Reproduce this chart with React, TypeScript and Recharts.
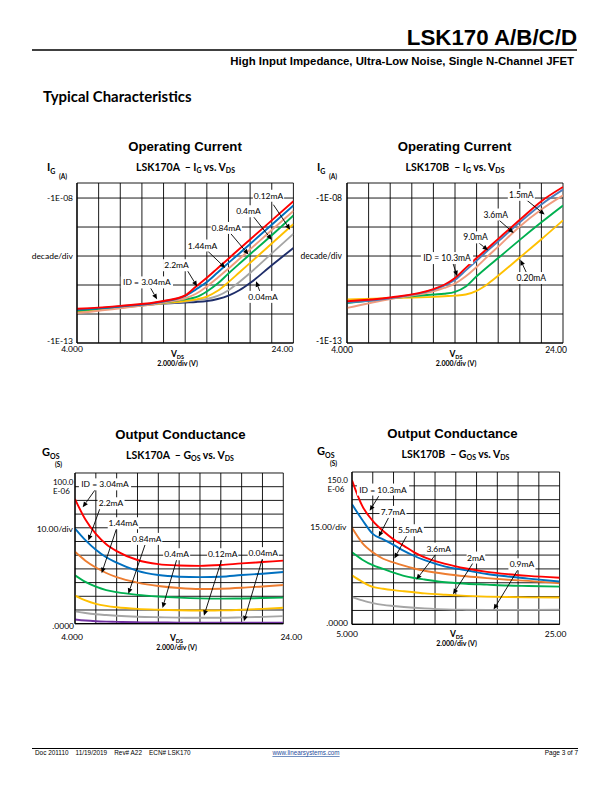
import React from "react";
import { LineChart, Line, XAxis, YAxis, CartesianGrid, ReferenceLine, ReferenceDot } from "recharts";

const ARIAL = "'Liberation Sans', Arial, sans-serif";
const CAL = "Lato, 'Open Sans', sans-serif";

// LSK170A  |IG| (A) vs VDS (V)
const vdsIgA = [4, 8, 12, 14, 15, 16, 17, 18, 19, 20, 22, 24];
const igA_3_04 = [1.51e-12, 1.91e-12, 2.8e-12, 4.4e-12, 8.9e-12, 1.78e-11, 3.8e-11, 8.1e-11, 1.74e-10, 3.7e-10, 1.7e-9, 7.8e-9];
const igA_2_2 = [1.41e-12, 1.82e-12, 2.7e-12, 4.2e-12, 7.1e-12, 1.26e-11, 2.7e-11, 5.8e-11, 1.23e-10, 2.6e-10, 1.2e-9, 5.5e-9];
const igA_1_44 = [1.07e-12, 1.58e-12, 2.5e-12, 3.5e-12, 5.0e-12, 8.9e-12, 1.78e-11, 3.7e-11, 7.9e-11, 1.7e-10, 7.9e-10, 3.6e-9];
const igA_0_84 = [1.32e-12, 1.74e-12, 2.5e-12, 3.2e-12, 3.8e-12, 6.0e-12, 1.12e-11, 2.5e-11, 5.4e-11, 1.15e-10, 5.2e-10, 2.5e-9];
const igA_0_4 = [1.26e-12, 1.66e-12, 2.4e-12, 2.8e-12, 3.2e-12, 4.0e-12, 6.3e-12, 1.26e-11, 2.7e-11, 5.8e-11, 2.7e-10, 1.26e-9];
const igA_0_12 = [1.2e-12, 1.66e-12, 2.3e-12, 2.7e-12, 3.0e-12, 3.3e-12, 4.2e-12, 6.6e-12, 1.26e-11, 2.6e-11, 1.23e-10, 5.8e-10];
const igA_0_04 = [1.38e-12, 1.74e-12, 2.3e-12, 2.5e-12, 2.6e-12, 2.8e-12, 3.3e-12, 4.3e-12, 6.6e-12, 1.17e-11, 4.8e-11, 1.9e-10];

// LSK170B  |IG| (A) vs VDS (V)
const vdsIgB = [4, 8, 12, 13, 14, 15, 16, 17, 18, 20, 22, 24];
const igB_10_3 = [2.75e-12, 3.7e-12, 7.2e-12, 1.02e-11, 1.74e-11, 3.9e-11, 8.5e-11, 1.82e-10, 3.9e-10, 1.78e-9, 7.8e-9, 2.4e-8];
const igB_9_0 = [2.5e-12, 3.5e-12, 6.9e-12, 9.5e-12, 1.51e-11, 3.2e-11, 6.9e-11, 1.51e-10, 3.2e-10, 1.45e-9, 6.0e-9, 1.95e-8];
const igB_3_6 = [1.62e-12, 3.3e-12, 6.0e-12, 7.9e-12, 1.12e-11, 2.0e-11, 4.2e-11, 9.5e-11, 2.1e-10, 1.05e-9, 4.0e-9, 1.23e-8];
const igB_1_5 = [2.4e-12, 3.5e-12, 4.7e-12, 5.0e-12, 5.8e-12, 8.9e-12, 2.0e-11, 4.2e-11, 8.5e-11, 3.6e-10, 1.45e-9, 5.5e-9];
const igB_0_20 = [3.2e-12, 3.5e-12, 3.9e-12, 4.1e-12, 4.3e-12, 4.7e-12, 6.3e-12, 1.07e-11, 2.1e-11, 8.9e-11, 3.8e-10, 1.7e-9];

// LSK170A  GOS (uS) vs VDS (V)
const vdsGosA = [4, 5, 6, 7, 8, 10, 12, 14, 16, 18, 20, 22, 24];
const gosA_3_04 = [91, 76, 65.5, 58, 53, 46.5, 43.5, 42.5, 42.2, 42.8, 44, 45, 46];
const gosA_2_2 = [69.5, 61, 54, 48.5, 44.5, 38.5, 35.5, 34.3, 34, 34.3, 35.5, 36.5, 37.7];
const gosA_1_44 = [52.5, 46, 41, 37, 34, 30, 27.5, 26, 25.3, 25.5, 26.2, 27.2, 28.2];
const gosA_0_84 = [35.3, 30.5, 27, 24.5, 23, 21, 19.8, 19, 18.5, 18.3, 18.4, 18.7, 19];
const gosA_0_4 = [20.5, 17, 14.5, 13, 12, 10.8, 10.2, 9.8, 9.6, 9.7, 10.2, 10.8, 11.6];
const gosA_0_12 = [9, 7.8, 6.9, 6.3, 5.8, 5.1, 4.7, 4.4, 4.3, 4.3, 4.6, 5, 5.5];
const gosA_0_04 = [3.1, 2.3, 1.8, 1.5, 1.3, 1.0, 0.9, 0.8, 0.8, 0.8, 0.8, 0.8, 0.8];

// LSK170B  GOS (uS) vs VDS (V)
const vdsGosB = [5, 6, 7, 8, 9, 10, 11, 12, 14, 16, 18, 20, 22, 25];
const gosB_10_3 = [156, 128, 112, 101, 92, 85, 78, 72.5, 65.5, 60.5, 56.8, 54.3, 52.5, 50.5];
const gosB_7_7 = [130, 113, 98, 92, 86, 79.5, 74, 69.5, 62.5, 58.5, 54.5, 51.8, 49.5, 46.3];
const gosB_5_5 = [104.5, 88, 78, 71, 67, 63.5, 60.5, 58, 54.5, 52, 50, 48.3, 47, 44.5];
const gosB_3_6 = [78, 70, 64, 60, 56, 52.5, 50.2, 48.5, 45.5, 44, 43, 42, 41.5, 40.8];
const gosB_2 = [53, 46, 40.5, 38.5, 37, 35.8, 34.7, 33.5, 32, 30.8, 30, 29.5, 29.2, 29];
const gosB_0_9 = [29.5, 26, 23, 21, 19.8, 18.8, 18, 17.3, 16.2, 15.8, 15.6, 15.6, 15.6, 15.7];

// axis ticks
const vTicksA = [4, 6, 8, 10, 12, 14, 16, 18, 20, 22, 24];
const vTicksB = [5, 7, 9, 11, 13, 15, 17, 19, 21, 23, 25];
const igTicks = [1e-13, 1e-12, 1e-11, 1e-10, 1e-9, 1e-8, 3.3e-8];
const gosTicksA = [0, 10, 20, 30, 40, 50, 60, 70, 80, 90, 100, 110];
const gosTicksB = [0, 15, 30, 45, 60, 75, 90, 105, 120, 135, 150, 165];

// callouts: label at (lx, ly), arrow from (sx, sy) to (tx, ty), data units
const notesIgA = [
  { text: "0.12mA", lx: 21.7, ly: 1.2e-8, sx: 22.15, sy: 5.9e-9, tx: 23.7, ty: 8.1e-10 },
  { text: "0.4mA", lx: 19.85, ly: 3.5e-9, sx: 20.3, sy: 2.3e-9, tx: 22, ty: 3.6e-10 },
  { text: "0.84mA", lx: 17.8, ly: 9.3e-10, sx: 18.15, sy: 6.3e-10, tx: 19.85, ty: 1.12e-10 },
  { text: "1.44mA", lx: 15.6, ly: 2.3e-10, sx: 16, sy: 1.58e-10, tx: 17.7, ty: 3.9e-11 },
  { text: "2.2mA", lx: 13.2, ly: 4.8e-11, sx: 14.15, sy: 3.4e-11, tx: 15.1, ty: 8.9e-12 },
  { text: "ID = 3.04mA", lx: 10.46, ly: 1.23e-11, sx: 10.8, sy: 7.9e-12, tx: 11.4, ty: 3.2e-12 },
  { text: "0.04mA", lx: 21.2, ly: 3.9e-12, sx: 20.9, sy: 6.0e-12, tx: 20.55, ty: 1.35e-11 },
];
const notesIgB = [
  { text: "1.5mA", lx: 20.14, ly: 1.29e-8, sx: 20.6, sy: 8.7e-9, tx: 22.3, ty: 2.7e-9 },
  { text: "3.6mA", lx: 17.77, ly: 2.7e-9, sx: 18.1, sy: 1.7e-9, tx: 19.43, ty: 6.2e-10 },
  { text: "9.0mA", lx: 15.9, ly: 4.4e-10, sx: 16.13, sy: 3.0e-10, tx: 17.06, ty: 1.58e-10 },
  { text: "ID = 10.3mA", lx: 13.26, ly: 8.5e-11, sx: 13.8, sy: 5.8e-11, tx: 14.2, ty: 2.0e-11 },
  { text: "0.20mA", lx: 21.07, ly: 1.74e-11, sx: 20.6, sy: 2.75e-11, tx: 20.05, ty: 7.4e-11 },
];
const notesGosA = [
  { text: "ID = 3.04mA", lx: 6.88, ly: 101.7, sx: 5.92, sy: 97.6, tx: 4.74, ty: 85 },
  { text: "2.2mA", lx: 7.46, ly: 87.9, sx: 6.4, sy: 84.2, tx: 5.28, ty: 60.7 },
  { text: "1.44mA", lx: 8.64, ly: 73.3, sx: 8, sy: 69.7, tx: 6.56, ty: 36.9 },
  { text: "0.84mA", lx: 10.88, ly: 61.9, sx: 10.72, sy: 57.5, tx: 9.12, ty: 21.8 },
  { text: "0.4mA", lx: 13.76, ly: 50.7, sx: 13.76, sy: 46.6, tx: 12.4, ty: 11.4 },
  { text: "0.12mA", lx: 18.18, ly: 50.7, sx: 18.08, sy: 46.6, tx: 16.38, ty: 5.8 },
  { text: "0.04mA", lx: 22.08, ly: 51.5, sx: 21.98, sy: 47.1, tx: 20.22, ty: 1.7 },
];
const notesGosB = [
  { text: "ID = 10.3mA", lx: 7.99, ly: 146, sx: 7.57, sy: 138.8, tx: 6.7, ty: 122.9 },
  { text: "7.7mA", lx: 8.95, ly: 121.8, sx: 8.53, sy: 115.6, tx: 7.57, ty: 94.7 },
  { text: "5.5mA", lx: 10.62, ly: 101.9, sx: 10.3, sy: 96.5, tx: 9.08, ty: 71.2 },
  { text: "3.6mA", lx: 13.35, ly: 82, sx: 13.12, sy: 76.6, tx: 11.2, ty: 48.4 },
  { text: "2mA", lx: 16.94, ly: 72.3, sx: 16.72, sy: 67.6, tx: 14.73, ty: 32.5 },
  { text: "0.9mA", lx: 21.37, ly: 65, sx: 21.05, sy: 60.4, tx: 18.64, ty: 15.9 },
];

type Series = { key: string; color: string; values: number[] };
type Note = { text: string; lx: number; ly: number; sx: number; sy: number; tx: number; ty: number };
type YLab = { v: number; lines: string[]; anchor: "start" | "end"; dx: number; dy: number; size?: number };
type Cfg = {
  left: number; top: number; width: number; height: number;
  x: number[]; series: Series[]; notes: Note[];
  xDomain: [number, number]; xTicks: number[];
  xFirst: string; xLast: string; firstDx: number; lastDx: number; xDy: number;
  log: boolean; yDomain: [number, number]; yTicks: number[]; yLabels: YLab[];
};

function rows(x: number[], series: Series[]) {
  return x.map((v, i) => {
    const r: Record<string, number> = { v };
    series.forEach((s) => (r[s.key] = s.values[i]));
    return r;
  });
}

const Arrow = (p: any) => {
  const { x1, y1, x2, y2 } = p;
  const a = Math.atan2(y2 - y1, x2 - x1);
  const bx = x2 - 5.5 * Math.cos(a);
  const by = y2 - 5.5 * Math.sin(a);
  const px = -Math.sin(a) * 2.4;
  const py = Math.cos(a) * 2.4;
  return (
    <g>
      <line x1={x1} y1={y1} x2={bx} y2={by} stroke="#000" strokeWidth={0.9} />
      <polygon points={`${x2},${y2} ${bx + px},${by + py} ${bx - px},${by - py}`} fill="#000" />
    </g>
  );
};

const NoteBox = ({ cx, cy, text }: { cx: number; cy: number; text: string }) => {
  const w = text.length * 4.2 + 6;
  return (
    <g>
      <rect x={cx - w / 2} y={cy - 6} width={w} height={12} fill="#fff" />
      <text x={cx} y={cy + 3} textAnchor="middle" fontSize={8.5} fontFamily={CAL} fill="#000">{text}</text>
    </g>
  );
};

function Panel({ c }: { c: Cfg }) {
  const padL = 60, padT = 10, padR = 24, padB = 30;
  const xTick = (p: any) => {
    const v = p.payload.value;
    let t = "", dx = 0;
    if (v === c.xTicks[0]) { t = c.xFirst; dx = c.firstDx; }
    else if (v === c.xTicks[c.xTicks.length - 1]) { t = c.xLast; dx = c.lastDx; }
    if (!t) return <g />;
    return (
      <text x={p.x + dx} y={c.height + padT + c.xDy} textAnchor="middle" fontSize={8.5} fontFamily={CAL} fill="#000">{t}</text>
    );
  };
  const yTick = (p: any) => {
    const val = p.payload.value;
    const lab = c.yLabels.find((l) => (l.v === 0 ? val === 0 : Math.abs(val - l.v) / l.v < 1e-6));
    if (!lab) return <g />;
    return (
      <text x={padL + lab.dx} y={p.y + lab.dy} textAnchor={lab.anchor} fontSize={lab.size ?? 8.5} fontFamily={CAL} fill="#000">
        {lab.lines.map((s, i) => (
          <tspan key={i} x={padL + lab.dx} dy={i === 0 ? 0 : 9}>{s}</tspan>
        ))}
      </text>
    );
  };
  return (
    <div style={{ position: "absolute", left: c.left - padL, top: c.top - padT }}>
      <LineChart
        width={c.width + padL + padR}
        height={c.height + padT + padB}
        data={rows(c.x, c.series)}
        margin={{ top: padT, right: padR, bottom: 0, left: 0 }}
      >
        <CartesianGrid stroke="#000" strokeWidth={0.9} />
        <XAxis dataKey="v" type="number" domain={c.xDomain} ticks={c.xTicks} interval={0} height={padB}
          tickSize={0} tickMargin={0} tickLine={false} axisLine={{ stroke: "#000", strokeWidth: 1.2 }} tick={xTick} allowDataOverflow />
        <YAxis type="number" scale={c.log ? "log" : "linear"} domain={c.yDomain} ticks={c.yTicks} interval={0} width={padL}
          tickSize={0} tickMargin={0} tickLine={false} axisLine={{ stroke: "#000", strokeWidth: 1.2 }} tick={yTick} allowDataOverflow />
        {c.series.map((s) => (
          <Line key={s.key} dataKey={s.key} type="monotone" stroke={s.color} strokeWidth={1.9} dot={false}
            activeDot={false} isAnimationActive={false} />
        ))}
        {c.notes.map((n, i) => (
          <ReferenceDot key={"b" + i} x={n.lx} y={n.ly} ifOverflow="visible"
            shape={(p: any) => <NoteBox cx={p.cx} cy={p.cy} text={n.text} />} />
        ))}
        {c.notes.map((n, i) => (
          <ReferenceLine key={"a" + i} segment={[{ x: n.sx, y: n.sy }, { x: n.tx, y: n.ty }]} ifOverflow="visible" shape={Arrow} />
        ))}
      </LineChart>
    </div>
  );
}

const RED = "#ff0000", BLUE = "#0070c0", SALMON = "#f09c7e", GREEN = "#00b050", YELLOW = "#ffc000";
const GRAY = "#a5a5a5", NAVY = "#1f2e6a", PURPLE = "#7030a0", ORANGE = "#ed7d31", STEEL = "#4a7cbc";

const igLabels = (dx: number): YLab[] => [
  { v: 1e-8, lines: ["-1E-08"], anchor: "end", dx, dy: 3 },
  { v: 1e-10, lines: ["decade/div"], anchor: "end", dx, dy: 3 },
  { v: 1e-13, lines: ["-1E-13"], anchor: "end", dx, dy: 1 },
];

const cfgA: Cfg = {
  left: 77, top: 183.3, width: 216.4, height: 160,
  x: vdsIgA, notes: notesIgA,
  series: [
    { key: "i004", color: NAVY, values: igA_0_04 },
    { key: "i012", color: GRAY, values: igA_0_12 },
    { key: "i04", color: YELLOW, values: igA_0_4 },
    { key: "i084", color: GREEN, values: igA_0_84 },
    { key: "i144", color: SALMON, values: igA_1_44 },
    { key: "i22", color: BLUE, values: igA_2_2 },
    { key: "i304", color: RED, values: igA_3_04 },
  ],
  xDomain: [4, 24], xTicks: vTicksA, xFirst: "4.000", xLast: "24.00", firstDx: -5, lastDx: -11, xDy: 9.5,
  log: true, yDomain: [1e-13, 3.3e-8], yTicks: igTicks, yLabels: igLabels(-4),
};
const cfgB: Cfg = {
  left: 347.3, top: 183.3, width: 216, height: 160,
  x: vdsIgB, notes: notesIgB,
  series: [
    { key: "i020", color: YELLOW, values: igB_0_20 },
    { key: "i15", color: GREEN, values: igB_1_5 },
    { key: "i36", color: SALMON, values: igB_3_6 },
    { key: "i90", color: STEEL, values: igB_9_0 },
    { key: "i103", color: RED, values: igB_10_3 },
  ],
  xDomain: [4, 24], xTicks: vTicksA, xFirst: "4.000", xLast: "24.00", firstDx: -5, lastDx: -7, xDy: 9.5,
  log: true, yDomain: [1e-13, 3.3e-8], yTicks: igTicks, yLabels: igLabels(-5),
};
const cfgC: Cfg = {
  left: 75, top: 473.3, width: 208.3, height: 150.7,
  x: vdsGosA, notes: notesGosA,
  series: [
    { key: "g004", color: PURPLE, values: gosA_0_04 },
    { key: "g012", color: GRAY, values: gosA_0_12 },
    { key: "g04", color: YELLOW, values: gosA_0_4 },
    { key: "g084", color: GREEN, values: gosA_0_84 },
    { key: "g144", color: ORANGE, values: gosA_1_44 },
    { key: "g22", color: BLUE, values: gosA_2_2 },
    { key: "g304", color: RED, values: gosA_3_04 },
  ],
  xDomain: [4, 24], xTicks: vTicksA, xFirst: "4.000", xLast: "24.00", firstDx: -3, lastDx: 8, xDy: 16.5,
  log: false, yDomain: [0, 110], yTicks: gosTicksA,
  yLabels: [
    { v: 100, lines: ["100.0", "E-06"], anchor: "start", dx: -22, dy: -1.5, size: 8 },
    { v: 70, lines: ["10.00/div"], anchor: "end", dx: -2, dy: 4 },
    { v: 0, lines: [".0000"], anchor: "end", dx: -1, dy: 5 },
  ],
};
const cfgD: Cfg = {
  left: 351.7, top: 471.7, width: 207.6, height: 152.3,
  x: vdsGosB, notes: notesGosB,
  series: [
    { key: "g09", color: GRAY, values: gosB_0_9 },
    { key: "g2", color: YELLOW, values: gosB_2 },
    { key: "g36", color: GREEN, values: gosB_3_6 },
    { key: "g55", color: ORANGE, values: gosB_5_5 },
    { key: "g77", color: BLUE, values: gosB_7_7 },
    { key: "g103", color: RED, values: gosB_10_3 },
  ],
  xDomain: [5, 25], xTicks: vTicksB, xFirst: "5.000", xLast: "25.00", firstDx: -5, lastDx: -4, xDy: 13,
  log: false, yDomain: [0, 165], yTicks: gosTicksB,
  yLabels: [
    { v: 150, lines: ["150.0", "E-06"], anchor: "start", dx: -24.5, dy: -2.5, size: 8 },
    { v: 105, lines: ["15.00/div"], anchor: "end", dx: -5.5, dy: 3 },
    { v: 0, lines: [".0000"], anchor: "end", dx: -4, dy: 2 },
  ],
};

function Sub({ x, y, a, b, anchor = "start" }: { x: number; y: number; a: string; b: string; anchor?: string }) {
  return (
    <text x={x} y={y} textAnchor={anchor} fontFamily={CAL} fontWeight="bold" fontSize={8.5}>
      {a}
      <tspan fontSize={5.5} dy={1.5}>{b}</tspan>
    </text>
  );
}

function ChartTitles({ cx, tTop, chip, q, qs, axX, axY, unit, unitDy, vx, vy }: any) {
  return (
    <g>
      <text x={cx.title} y={tTop} textAnchor="middle" fontFamily={ARIAL} fontWeight="bold" fontSize={13.2}>{q === "I" ? "Operating Current" : "Output Conductance"}</text>
      <text x={cx.sub} y={tTop + 20.5} textAnchor="middle" fontFamily={CAL} fontWeight="bold" fontSize={10.5} style={{ whiteSpace: "pre" }}>
        {chip + "  \u2013 " + q}
        <tspan fontSize={7} dy={2}>{qs}</tspan>
        <tspan dy={-2}>{" vs. V"}</tspan>
        <tspan fontSize={7} dy={2}>DS</tspan>
      </text>
      <text x={axX} y={axY} fontFamily={CAL} fontWeight="bold" fontSize={11}>
        {q}
        <tspan fontSize={7} dy={2.5}>{qs}</tspan>
      </text>
      <text x={axX + unit} y={axY + unitDy} fontFamily={CAL} fontWeight="bold" fontSize={6.5}>{q === "I" ? "(A)" : "(S)"}</text>
      <Sub x={vx} y={vy} a="V" b="DS" anchor="middle" />
      <text x={vx} y={vy + 9} textAnchor="middle" fontFamily={CAL} fontWeight="bold" fontSize={7}>2.000/div (V)</text>
    </g>
  );
}

export default function App() {
  return (
    <div style={{ position: "relative", width: 612, height: 792, background: "#fff", overflow: "hidden" }}>
      <style>{"body{margin:0}"}</style>
      <Panel c={cfgA} />
      <Panel c={cfgB} />
      <Panel c={cfgC} />
      <Panel c={cfgD} />
      <svg width={612} height={792} style={{ position: "absolute", left: 0, top: 0, pointerEvents: "none" }}>
        <text x={577} y={45} textAnchor="end" fontFamily={ARIAL} fontWeight="bold" fontSize={22.3}>LSK170 A/B/C/D</text>
        <line x1={32} y1={50} x2={577} y2={50} stroke="#000" strokeWidth={1.5} />
        <text x={574} y={64.5} textAnchor="end" fontFamily={ARIAL} fontWeight="bold" fontSize={11.4}>High Input Impedance, Ultra-Low Noise, Single N-Channel JFET</text>
        <text x={43} y={102} fontFamily={CAL} fontWeight="bold" fontSize={14.9}>Typical Characteristics</text>

        <ChartTitles cx={{ title: 185, sub: 185.5 }} tTop={150.5} chip="LSK170A" q="I" qs="G" axX={47} axY={171} unit={12} unitDy={8} vx={177.5} vy={357} />
        <ChartTitles cx={{ title: 454.5, sub: 455 }} tTop={150.5} chip="LSK170B" q="I" qs="G" axX={317} axY={171} unit={12} unitDy={8} vx={456} vy={357} />
        <ChartTitles cx={{ title: 180.5, sub: 180 }} tTop={438.5} chip="LSK170A" q="G" qs="OS" axX={42} axY={456} unit={13} unitDy={10.5} vx={176.5} vy={641} />
        <ChartTitles cx={{ title: 452.5, sub: 455.5 }} tTop={437.5} chip="LSK170B" q="G" qs="OS" axX={317} axY={455} unit={13} unitDy={10.5} vx={456.5} vy={637} />

        <line x1={32} y1={748.5} x2={578} y2={748.5} stroke="#000" strokeWidth={1} />
        <text x={35} y={755} fontFamily={ARIAL} fontSize={6.4} style={{ whiteSpace: "pre" }}>{"Doc 201110    11/19/2019    Rev# A22    ECN# LSK170"}</text>
        <text x={306} y={755} textAnchor="middle" fontFamily={ARIAL} fontSize={6.3} fill="#1f4e9c" textDecoration="underline">www.linearsystems.com</text>
        <text x={578} y={755} textAnchor="end" fontFamily={ARIAL} fontSize={6.5}>Page 3 of 7</text>
      </svg>
    </div>
  );
}
